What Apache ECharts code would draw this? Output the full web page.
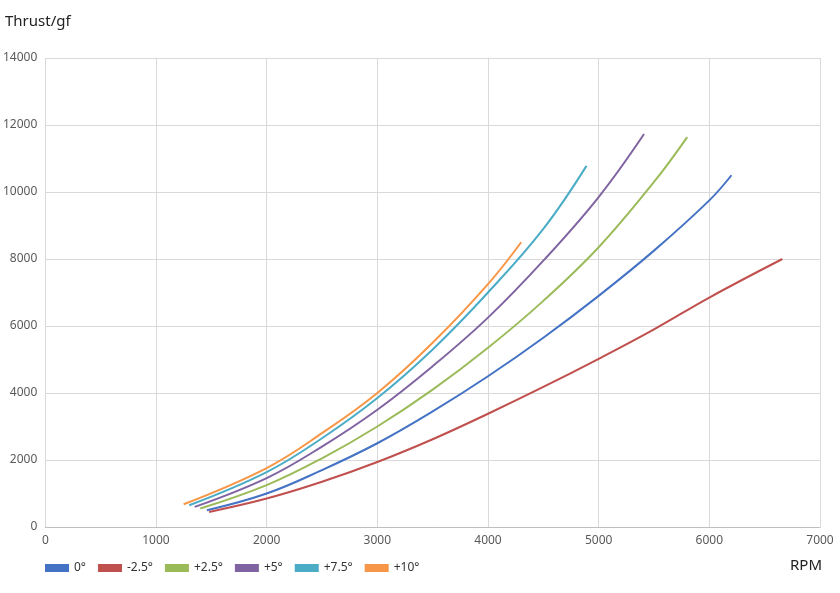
<!DOCTYPE html>
<html><head><meta charset="utf-8">
<script src="https://cdn.jsdelivr.net/npm/echarts@6/dist/echarts.min.js"></script>
<style>html,body{margin:0;padding:0;background:#fff}#c{width:840px;height:593px}</style>
</head><body><div id="c"></div>
<script>
const seriesNames = ['0°', '-2.5°', '+2.5°', '+5°', '+7.5°', '+10°'];
const colors = ['#4472C4', '#C0504D', '#9BBB59', '#8064A2', '#4BACC6', '#F79646'];
const s0 = [[1460,500],[2000,1000],[2500,1700],[3000,2500],[3500,3450],[4000,4500],[4500,5650],[5000,6900],[5500,8250],[6000,9750],[6200,10500]];
const sM25 = [[1480,450],[2000,850],[2500,1350],[3000,1940],[3500,2620],[4000,3380],[4500,4180],[5000,5020],[5500,5900],[6000,6850],[6660,8000]];
const sP25 = [[1400,550],[2000,1250],[2500,2050],[3000,3000],[3500,4100],[4000,5350],[4500,6750],[5000,8350],[5500,10300],[5800,11640]];
const sP5 = [[1350,600],[2000,1460],[2500,2400],[3000,3500],[3500,4800],[4000,6250],[4500,7950],[5000,9850],[5410,11730]];
const sP75 = [[1300,650],[2000,1640],[2500,2650],[3000,3850],[3500,5300],[4000,7000],[4500,8900],[4890,10780]];
const sP10 = [[1250,680],[2000,1760],[2500,2800],[3000,4000],[3500,5500],[4000,7250],[4300,8500]];
const data = [s0, sM25, sP25, sP5, sP75, sP10];
const font = 'Noto Sans';
const chart = echarts.init(document.getElementById('c'));
chart.setOption({
  animation:false,
  color: colors,
  textStyle:{fontFamily:font},
  grid:{left:45,right:20,top:58,bottom:66},
  graphic:[
    {type:'text',left:5,top:14,style:{text:'Thrust/gf',fontSize:15,fontFamily:font,fill:'#222'}},
    {type:'text',right:18,top:558,style:{text:'RPM',fontSize:15,fontFamily:font,fill:'#222'}}
  ],
  legend:{left:40,bottom:14,itemWidth:24,itemHeight:8,itemGap:12,icon:'rect',
    textStyle:{fontSize:12,color:'#333'},data:seriesNames},
  xAxis:{type:'value',min:0,max:7000,interval:1000,
    axisLine:{lineStyle:{color:'#bfbfbf'}},axisTick:{show:false},
    axisLabel:{color:'#595959',fontSize:12,formatter:v=>String(v)},
    splitLine:{show:true,lineStyle:{color:'#d9d9d9'}}},
  yAxis:{type:'value',min:0,max:14000,interval:2000,
    axisLine:{show:false},axisTick:{show:false},
    axisLabel:{color:'#595959',fontSize:12,formatter:v=>String(v)},
    splitLine:{lineStyle:{color:'#d9d9d9'}}},
  series: seriesNames.map((n,i)=>({name:n,type:'line',smooth:0.4,showSymbol:false,
    lineStyle:{width:2},data:data[i]}))
});
</script></body></html>
